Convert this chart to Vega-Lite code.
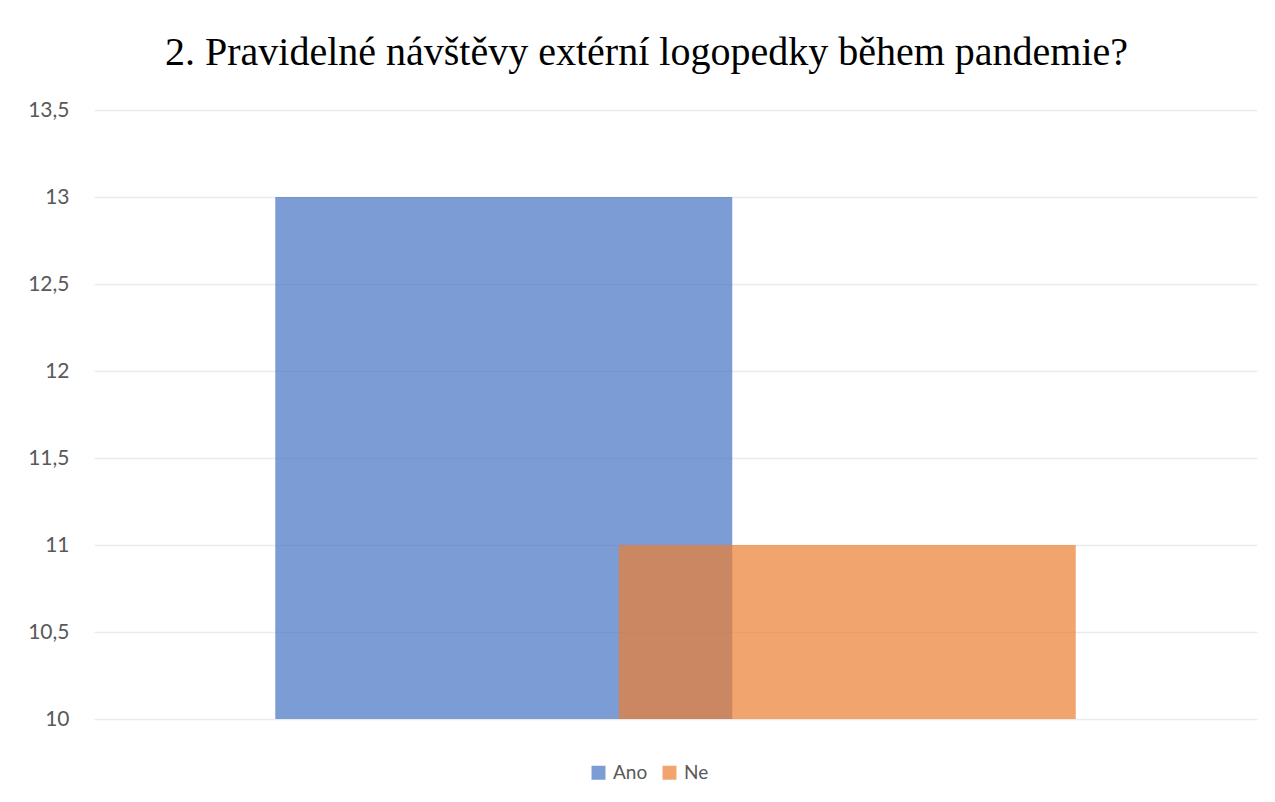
{
  "$schema": "https://vega.github.io/schema/vega-lite/v6.json",
  "width": 1163,
  "height": 609,
  "autosize": {"type": "none"},
  "padding": {"left": 94, "top": 110, "right": 18, "bottom": 83},
  "background": "white",
  "title": {
    "text": "2. Pravidelné návštěvy extérní logopedky během pandemie?",
    "font": "Liberation Serif",
    "fontSize": 40,
    "fontWeight": "normal",
    "color": "#000000",
    "anchor": "middle",
    "frame": "group",
    "dx": -29,
    "offset": 26
  },
  "data": {
    "values": [
      {"series": "Ano", "value": 13},
      {"series": "Ne", "value": 11}
    ]
  },
  "mark": {"type": "bar", "opacity": 0.7, "width": {"band": 1.3304}},
  "encoding": {
    "x": {
      "field": "series",
      "type": "nominal",
      "sort": ["Ano", "Ne"],
      "scale": {"paddingInner": 0, "paddingOuter": 0.6929},
      "axis": null
    },
    "y": {
      "field": "value",
      "type": "quantitative",
      "scale": {"domain": [10, 13.5], "zero": false, "nice": false},
      "axis": {
        "title": null,
        "values": [10, 10.5, 11, 11.5, 12, 12.5, 13, 13.5],
        "labelExpr": "replace(datum.label, '.', ',')",
        "format": "~g",
        "domain": false,
        "ticks": false,
        "labelPadding": 25,
        "labelFont": "Lato",
        "labelFontSize": 21,
        "labelColor": "#595959",
        "gridColor": "#EBEBEB",
        "gridWidth": 1.5
      }
    },
    "y2": {"datum": 10},
    "color": {
      "field": "series",
      "type": "nominal",
      "scale": {"domain": ["Ano", "Ne"], "range": ["#4472C4", "#ED7D31"]},
      "legend": {
        "title": null,
        "orient": "none",
        "direction": "horizontal",
        "legendX": 495,
        "legendY": 653,
        "symbolType": "square",
        "symbolSize": 196,
        "symbolOpacity": 0.7,
        "symbolStrokeWidth": 0,
        "labelFont": "Lato",
        "labelFontSize": 19,
        "labelColor": "#595959",
        "labelOffset": 5,
        "columnPadding": 12
      }
    }
  },
  "config": {"view": {"stroke": null}}
}
